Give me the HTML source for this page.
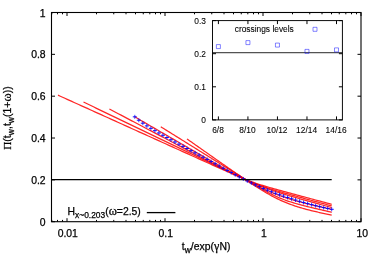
<!DOCTYPE html>
<html><head><meta charset="utf-8"><title>plot</title>
<style>
html,body{margin:0;padding:0;background:#fff;}
body{width:380px;height:266px;position:relative;overflow:hidden;font-family:"Liberation Sans",sans-serif;}
</style></head><body>
<svg width="380" height="266" viewBox="0 0 380 266" style="position:absolute;left:0;top:0;will-change:transform;opacity:0.999">
<path d="M58.00,95.18 L60.30,96.22 L62.60,97.26 L64.90,98.30 L67.20,99.34 L69.50,100.38 L71.80,101.42 L74.10,102.46 L76.40,103.50 L78.70,104.54 L81.00,105.58 L83.30,106.61 L85.60,107.65 L87.90,108.69 L90.20,109.73 L92.50,110.77 L94.80,111.81 L97.10,112.85 L99.40,113.89 L101.70,114.93 L104.00,115.97 L106.30,117.01 L108.60,118.05 L110.90,119.09 L113.20,120.13 L115.50,121.17 L117.80,122.21 L120.10,123.25 L122.40,124.29 L124.70,125.33 L127.00,126.37 L129.30,127.41 L131.60,128.45 L133.90,129.48 L136.20,130.52 L138.50,131.56 L140.80,132.60 L143.10,133.64 L145.40,134.68 L147.70,135.72 L150.00,136.76 L152.30,137.80 L154.60,138.84 L156.90,139.88 L159.20,140.92 L161.50,141.96 L163.80,143.00 L166.10,144.04 L168.40,145.08 L170.70,146.12 L173.00,147.16 L175.30,148.20 L177.60,149.24 L179.90,150.28 L182.20,151.32 L184.50,152.35 L186.80,153.39 L189.10,154.43 L191.40,155.47 L193.70,156.51 L196.00,157.55 L198.30,158.59 L200.60,159.63 L202.90,160.67 L205.20,161.71 L207.50,162.75 L209.80,163.78 L212.10,164.82 L214.40,165.86 L216.70,166.89 L219.00,167.92 L221.30,168.96 L223.60,169.99 L225.90,171.01 L228.20,172.03 L230.50,173.05 L232.80,174.06 L235.10,175.06 L237.40,176.05 L239.70,177.03 L242.00,177.99 L244.30,178.92 L246.60,179.84 L248.90,180.73 L251.20,181.59 L253.50,182.42 L255.80,183.22 L258.10,183.99 L260.40,184.73 L262.70,185.46 L265.00,186.16 L267.30,186.84 L269.60,187.51 L271.90,188.16 L274.20,188.81 L276.50,189.45 L278.80,190.08 L281.10,190.71 L283.40,191.34 L285.70,191.96 L288.00,192.58 L290.30,193.20 L292.60,193.82 L294.90,194.44 L297.20,195.06 L299.50,195.68 L301.80,196.29 L304.10,196.91 L306.40,197.52 L308.70,198.14 L311.00,198.76 L313.30,199.37 L315.60,199.99 L317.90,200.60 L320.20,201.22 L322.50,201.83 L324.80,202.45 L327.10,203.07 L329.40,203.68 L331.70,204.30" fill="none" stroke="#ff0000" stroke-width="1.25" stroke-opacity="0.85"/>
<path d="M83.50,102.06 L85.59,103.06 L87.67,104.06 L89.76,105.06 L91.84,106.06 L93.93,107.06 L96.01,108.07 L98.10,109.07 L100.19,110.07 L102.27,111.07 L104.36,112.07 L106.44,113.07 L108.53,114.07 L110.61,115.07 L112.70,116.07 L114.79,117.07 L116.87,118.07 L118.96,119.07 L121.04,120.07 L123.13,121.07 L125.21,122.07 L127.30,123.08 L129.39,124.08 L131.47,125.08 L133.56,126.08 L135.64,127.08 L137.73,128.08 L139.81,129.08 L141.90,130.08 L143.99,131.08 L146.07,132.08 L148.16,133.08 L150.24,134.08 L152.33,135.08 L154.41,136.08 L156.50,137.08 L158.59,138.09 L160.67,139.09 L162.76,140.09 L164.84,141.09 L166.93,142.09 L169.01,143.09 L171.10,144.09 L173.19,145.09 L175.27,146.09 L177.36,147.09 L179.44,148.09 L181.53,149.09 L183.61,150.09 L185.70,151.09 L187.79,152.09 L189.87,153.09 L191.96,154.10 L194.04,155.10 L196.13,156.10 L198.21,157.10 L200.30,158.10 L202.39,159.10 L204.47,160.10 L206.56,161.10 L208.64,162.10 L210.73,163.10 L212.81,164.10 L214.90,165.10 L216.99,166.09 L219.07,167.09 L221.16,168.09 L223.24,169.08 L225.33,170.08 L227.41,171.07 L229.50,172.06 L231.59,173.05 L233.67,174.03 L235.76,175.01 L237.84,175.99 L239.93,176.95 L242.01,177.91 L244.10,178.85 L246.19,179.78 L248.27,180.69 L250.36,181.59 L252.44,182.46 L254.53,183.31 L256.61,184.13 L258.70,184.92 L260.79,185.68 L262.87,186.42 L264.96,187.13 L267.04,187.82 L269.13,188.49 L271.21,189.13 L273.30,189.77 L275.39,190.39 L277.47,191.00 L279.56,191.60 L281.64,192.19 L283.73,192.78 L285.81,193.36 L287.90,193.94 L289.99,194.52 L292.07,195.10 L294.16,195.67 L296.24,196.24 L298.33,196.82 L300.41,197.39 L302.50,197.96 L304.59,198.53 L306.67,199.10 L308.76,199.67 L310.84,200.24 L312.93,200.81 L315.01,201.38 L317.10,201.95 L319.19,202.52 L321.27,203.09 L323.36,203.65 L325.44,204.22 L327.53,204.79 L329.61,205.36 L331.70,205.93" fill="none" stroke="#ff0000" stroke-width="1.25" stroke-opacity="0.85"/>
<path d="M109.40,109.02 L111.27,110.00 L113.14,110.99 L115.00,111.97 L116.87,112.95 L118.74,113.94 L120.61,114.92 L122.48,115.91 L124.34,116.89 L126.21,117.88 L128.08,118.86 L129.95,119.85 L131.82,120.83 L133.68,121.82 L135.55,122.80 L137.42,123.78 L139.29,124.77 L141.16,125.75 L143.03,126.74 L144.89,127.72 L146.76,128.71 L148.63,129.69 L150.50,130.67 L152.37,131.66 L154.23,132.64 L156.10,133.63 L157.97,134.61 L159.84,135.60 L161.71,136.58 L163.57,137.56 L165.44,138.55 L167.31,139.53 L169.18,140.52 L171.05,141.50 L172.91,142.48 L174.78,143.47 L176.65,144.45 L178.52,145.43 L180.39,146.42 L182.25,147.40 L184.12,148.38 L185.99,149.37 L187.86,150.35 L189.73,151.33 L191.59,152.31 L193.46,153.29 L195.33,154.27 L197.20,155.25 L199.07,156.23 L200.94,157.21 L202.80,158.19 L204.67,159.16 L206.54,160.14 L208.41,161.11 L210.28,162.08 L212.14,163.05 L214.01,164.02 L215.88,164.99 L217.75,165.95 L219.62,166.91 L221.48,167.87 L223.35,168.83 L225.22,169.78 L227.09,170.72 L228.96,171.66 L230.82,172.59 L232.69,173.52 L234.56,174.44 L236.43,175.36 L238.30,176.26 L240.16,177.15 L242.03,178.04 L243.90,178.91 L245.77,179.77 L247.64,180.61 L249.51,181.45 L251.37,182.27 L253.24,183.07 L255.11,183.86 L256.98,184.63 L258.85,185.38 L260.71,186.12 L262.58,186.84 L264.45,187.55 L266.32,188.24 L268.19,188.92 L270.05,189.58 L271.92,190.22 L273.79,190.86 L275.66,191.48 L277.53,192.09 L279.39,192.69 L281.26,193.28 L283.13,193.86 L285.00,194.43 L286.87,194.99 L288.73,195.55 L290.60,196.10 L292.47,196.65 L294.34,197.19 L296.21,197.72 L298.07,198.26 L299.94,198.79 L301.81,199.31 L303.68,199.84 L305.55,200.36 L307.42,200.88 L309.28,201.40 L311.15,201.91 L313.02,202.43 L314.89,202.94 L316.76,203.46 L318.62,203.97 L320.49,204.48 L322.36,204.99 L324.23,205.50 L326.10,206.01 L327.96,206.52 L329.83,207.02 L331.70,207.53" fill="none" stroke="#ff0000" stroke-width="1.25" stroke-opacity="0.85"/>
<path d="M134.80,116.83 L136.45,117.79 L138.11,118.75 L139.76,119.71 L141.42,120.67 L143.07,121.63 L144.73,122.59 L146.38,123.55 L148.04,124.51 L149.69,125.47 L151.35,126.43 L153.00,127.39 L154.66,128.35 L156.31,129.31 L157.96,130.26 L159.62,131.22 L161.27,132.18 L162.93,133.14 L164.58,134.10 L166.24,135.06 L167.89,136.02 L169.55,136.98 L171.20,137.94 L172.86,138.90 L174.51,139.86 L176.17,140.81 L177.82,141.77 L179.47,142.73 L181.13,143.69 L182.78,144.65 L184.44,145.60 L186.09,146.56 L187.75,147.52 L189.40,148.47 L191.06,149.43 L192.71,150.39 L194.37,151.34 L196.02,152.30 L197.68,153.25 L199.33,154.20 L200.98,155.16 L202.64,156.11 L204.29,157.06 L205.95,158.01 L207.60,158.96 L209.26,159.91 L210.91,160.86 L212.57,161.80 L214.22,162.75 L215.88,163.69 L217.53,164.64 L219.19,165.57 L220.84,166.51 L222.49,167.45 L224.15,168.38 L225.80,169.31 L227.46,170.24 L229.11,171.16 L230.77,172.09 L232.42,173.00 L234.08,173.92 L235.73,174.82 L237.39,175.73 L239.04,176.63 L240.70,177.52 L242.35,178.40 L244.01,179.28 L245.66,180.16 L247.31,181.02 L248.97,181.88 L250.62,182.72 L252.28,183.56 L253.93,184.39 L255.59,185.20 L257.24,186.01 L258.90,186.80 L260.55,187.58 L262.21,188.35 L263.86,189.10 L265.52,189.84 L267.17,190.57 L268.82,191.28 L270.48,191.98 L272.13,192.66 L273.79,193.32 L275.44,193.97 L277.10,194.60 L278.75,195.22 L280.41,195.82 L282.06,196.41 L283.72,196.98 L285.37,197.54 L287.03,198.08 L288.68,198.61 L290.33,199.13 L291.99,199.63 L293.64,200.12 L295.30,200.60 L296.95,201.07 L298.61,201.53 L300.26,201.98 L301.92,202.42 L303.57,202.85 L305.23,203.27 L306.88,203.69 L308.54,204.09 L310.19,204.50 L311.84,204.89 L313.50,205.28 L315.15,205.67 L316.81,206.05 L318.46,206.43 L320.12,206.80 L321.77,207.17 L323.43,207.53 L325.08,207.90 L326.74,208.26 L328.39,208.61 L330.05,208.97 L331.70,209.32" fill="none" stroke="#ff0000" stroke-width="1.25" stroke-opacity="0.85"/>
<path d="M160.80,126.77 L162.24,127.67 L163.67,128.56 L165.11,129.46 L166.54,130.35 L167.98,131.24 L169.42,132.14 L170.85,133.03 L172.29,133.93 L173.73,134.82 L175.16,135.72 L176.60,136.61 L178.03,137.51 L179.47,138.40 L180.91,139.29 L182.34,140.19 L183.78,141.08 L185.21,141.98 L186.65,142.87 L188.09,143.77 L189.52,144.66 L190.96,145.55 L192.39,146.45 L193.83,147.34 L195.27,148.24 L196.70,149.13 L198.14,150.03 L199.58,150.92 L201.01,151.82 L202.45,152.71 L203.88,153.60 L205.32,154.50 L206.76,155.39 L208.19,156.29 L209.63,157.18 L211.06,158.07 L212.50,158.97 L213.94,159.86 L215.37,160.76 L216.81,161.65 L218.25,162.54 L219.68,163.44 L221.12,164.33 L222.55,165.22 L223.99,166.11 L225.43,167.01 L226.86,167.90 L228.30,168.79 L229.73,169.68 L231.17,170.57 L232.61,171.46 L234.04,172.35 L235.48,173.24 L236.92,174.13 L238.35,175.01 L239.79,175.90 L241.22,176.78 L242.66,177.66 L244.10,178.54 L245.53,179.42 L246.97,180.30 L248.40,181.17 L249.84,182.04 L251.28,182.90 L252.71,183.76 L254.15,184.62 L255.58,185.47 L257.02,186.31 L258.46,187.15 L259.89,187.97 L261.33,188.79 L262.77,189.60 L264.20,190.40 L265.64,191.18 L267.07,191.95 L268.51,192.71 L269.95,193.45 L271.38,194.17 L272.82,194.88 L274.25,195.56 L275.69,196.23 L277.13,196.87 L278.56,197.49 L280.00,198.10 L281.44,198.68 L282.87,199.24 L284.31,199.78 L285.74,200.31 L287.18,200.81 L288.62,201.30 L290.05,201.77 L291.49,202.22 L292.92,202.66 L294.36,203.09 L295.80,203.51 L297.23,203.91 L298.67,204.31 L300.11,204.70 L301.54,205.08 L302.98,205.45 L304.41,205.82 L305.85,206.18 L307.29,206.54 L308.72,206.89 L310.16,207.24 L311.59,207.59 L313.03,207.93 L314.47,208.27 L315.90,208.61 L317.34,208.95 L318.77,209.29 L320.21,209.63 L321.65,209.96 L323.08,210.29 L324.52,210.63 L325.96,210.96 L327.39,211.29 L328.83,211.62 L330.26,211.95 L331.70,212.28" fill="none" stroke="#ff0000" stroke-width="1.25" stroke-opacity="0.85"/>
<path d="M187.00,138.94 L188.22,139.79 L189.43,140.65 L190.65,141.50 L191.86,142.36 L193.08,143.21 L194.30,144.07 L195.51,144.92 L196.73,145.77 L197.94,146.63 L199.16,147.48 L200.38,148.34 L201.59,149.19 L202.81,150.04 L204.02,150.90 L205.24,151.75 L206.46,152.60 L207.67,153.46 L208.89,154.31 L210.10,155.16 L211.32,156.01 L212.54,156.87 L213.75,157.72 L214.97,158.57 L216.18,159.42 L217.40,160.27 L218.62,161.12 L219.83,161.97 L221.05,162.82 L222.26,163.67 L223.48,164.51 L224.69,165.36 L225.91,166.21 L227.13,167.05 L228.34,167.90 L229.56,168.74 L230.77,169.58 L231.99,170.42 L233.21,171.26 L234.42,172.10 L235.64,172.94 L236.85,173.77 L238.07,174.61 L239.29,175.44 L240.50,176.27 L241.72,177.09 L242.93,177.92 L244.15,178.74 L245.37,179.56 L246.58,180.37 L247.80,181.18 L249.01,181.99 L250.23,182.79 L251.45,183.59 L252.66,184.39 L253.88,185.18 L255.09,185.96 L256.31,186.74 L257.53,187.51 L258.74,188.27 L259.96,189.03 L261.17,189.78 L262.39,190.52 L263.61,191.25 L264.82,191.97 L266.04,192.68 L267.25,193.39 L268.47,194.08 L269.69,194.76 L270.90,195.43 L272.12,196.08 L273.33,196.73 L274.55,197.36 L275.77,197.98 L276.98,198.59 L278.20,199.18 L279.41,199.76 L280.63,200.32 L281.85,200.87 L283.06,201.41 L284.28,201.93 L285.49,202.44 L286.71,202.93 L287.93,203.41 L289.14,203.88 L290.36,204.34 L291.57,204.78 L292.79,205.21 L294.01,205.63 L295.22,206.04 L296.44,206.43 L297.65,206.82 L298.87,207.20 L300.08,207.56 L301.30,207.92 L302.52,208.27 L303.73,208.61 L304.95,208.95 L306.16,209.28 L307.38,209.60 L308.60,209.91 L309.81,210.22 L311.03,210.52 L312.24,210.82 L313.46,211.12 L314.68,211.41 L315.89,211.69 L317.11,211.98 L318.32,212.25 L319.54,212.53 L320.76,212.80 L321.97,213.07 L323.19,213.34 L324.40,213.61 L325.62,213.87 L326.84,214.13 L328.05,214.39 L329.27,214.65 L330.48,214.91 L331.70,215.16" fill="none" stroke="#ff0000" stroke-width="1.25" stroke-opacity="0.85"/>
<path d="M134.80,114.83v4.00M138.82,118.22v4.00M142.84,121.19v4.00M146.86,123.90v4.00M150.87,126.35v4.00M154.89,128.67v4.00M158.91,130.97v4.00M162.93,133.26v4.00M166.95,135.55v4.00M170.97,137.78v4.00M174.98,139.98v4.00M179.00,142.17v4.00M183.02,144.35v4.00M187.04,146.54v4.00M191.06,148.71v4.00M195.08,150.87v4.00M199.09,153.03v4.00M203.11,155.19v4.00M207.13,157.37v4.00M211.15,159.57v4.00M215.17,161.78v4.00M219.19,163.99v4.00M223.20,166.19v4.00M227.22,168.38v4.00M231.24,170.56v4.00M235.26,172.72v4.00M239.28,174.84v4.00M243.30,176.93v4.00M247.31,178.96v4.00M251.33,180.93v4.00M255.35,182.84v4.00M259.37,184.67v4.00M263.39,186.43v4.00M267.41,188.11v4.00M271.42,189.72v4.00M275.44,191.25v4.00M279.46,192.71v4.00M283.48,194.10v4.00M287.50,195.44v4.00M291.52,196.76v4.00M295.53,198.03v4.00M299.55,199.27v4.00M303.57,200.46v4.00M307.59,201.59v4.00M311.61,202.67v4.00M315.63,203.67v4.00M319.64,204.63v4.00M323.66,205.55v4.00M327.68,206.45v4.00M331.70,207.32v4.00" fill="none" stroke="#0000ff" stroke-width="0.85" stroke-opacity="0.9"/>
<path d="M132.80,116.83h4.00M136.82,120.22h4.00M140.84,123.19h4.00M144.86,125.90h4.00M148.87,128.35h4.00M152.89,130.67h4.00M156.91,132.97h4.00M160.93,135.26h4.00M164.95,137.55h4.00M168.97,139.78h4.00M172.98,141.98h4.00M177.00,144.17h4.00M181.02,146.35h4.00M185.04,148.54h4.00M189.06,150.71h4.00M193.08,152.87h4.00M197.09,155.03h4.00M201.11,157.19h4.00M205.13,159.37h4.00M209.15,161.57h4.00M213.17,163.78h4.00M217.19,165.99h4.00M221.20,168.19h4.00M225.22,170.38h4.00M229.24,172.56h4.00M233.26,174.72h4.00M237.28,176.84h4.00M241.30,178.93h4.00M245.31,180.96h4.00M249.33,182.93h4.00M253.35,184.84h4.00M257.37,186.67h4.00M261.39,188.43h4.00M265.41,190.11h4.00M269.42,191.72h4.00M273.44,193.25h4.00M277.46,194.71h4.00M281.48,196.10h4.00M285.50,197.44h4.00M289.52,198.76h4.00M293.53,200.03h4.00M297.55,201.27h4.00M301.57,202.46h4.00M305.59,203.59h4.00M309.61,204.67h4.00M313.63,205.67h4.00M317.64,206.63h4.00M321.66,207.55h4.00M325.68,208.45h4.00M329.70,209.32h4.00" fill="none" stroke="#0000ff" stroke-width="0.95"/>
<path d="M51.5,179.55H331.7" stroke="#000" stroke-width="1.3" fill="none"/>
<path d="M146.8,212.6H175.4" stroke="#000" stroke-width="1.3" fill="none"/>
<rect x="51.5" y="12.5" width="309.5" height="209.2" fill="none" stroke="#000" stroke-width="1.1"/>
<path d="M51.5,221.70h3.5M361.0,221.70h-3.5M51.5,179.86h3.5M361.0,179.86h-3.5M51.5,138.02h3.5M361.0,138.02h-3.5M51.5,96.18h3.5M361.0,96.18h-3.5M51.5,54.34h3.5M361.0,54.34h-3.5M51.5,12.50h3.5M361.0,12.50h-3.5M51.82,221.7v-1.8M51.82,12.5v1.8M57.50,221.7v-1.8M57.50,12.5v1.8M62.52,221.7v-1.8M62.52,12.5v1.8M67.00,221.7v-3.5M67.00,12.5v3.5M96.50,221.7v-1.8M96.50,12.5v1.8M113.76,221.7v-1.8M113.76,12.5v1.8M126.00,221.7v-1.8M126.00,12.5v1.8M135.50,221.7v-1.8M135.50,12.5v1.8M143.26,221.7v-1.8M143.26,12.5v1.8M149.82,221.7v-1.8M149.82,12.5v1.8M155.50,221.7v-1.8M155.50,12.5v1.8M160.52,221.7v-1.8M160.52,12.5v1.8M165.00,221.7v-3.5M165.00,12.5v3.5M194.50,221.7v-1.8M194.50,12.5v1.8M211.76,221.7v-1.8M211.76,12.5v1.8M224.00,221.7v-1.8M224.00,12.5v1.8M233.50,221.7v-1.8M233.50,12.5v1.8M241.26,221.7v-1.8M241.26,12.5v1.8M247.82,221.7v-1.8M247.82,12.5v1.8M253.50,221.7v-1.8M253.50,12.5v1.8M258.52,221.7v-1.8M258.52,12.5v1.8M263.00,221.7v-3.5M263.00,12.5v3.5M292.50,221.7v-1.8M292.50,12.5v1.8M309.76,221.7v-1.8M309.76,12.5v1.8M322.00,221.7v-1.8M322.00,12.5v1.8M331.50,221.7v-1.8M331.50,12.5v1.8M339.26,221.7v-1.8M339.26,12.5v1.8M345.82,221.7v-1.8M345.82,12.5v1.8M351.50,221.7v-1.8M351.50,12.5v1.8M356.52,221.7v-1.8M356.52,12.5v1.8M361.00,221.7v-3.5M361.00,12.5v3.5" stroke="#000" stroke-width="1.0" fill="none"/>
<rect x="212.5" y="20.6" width="129.89999999999998" height="99.30000000000001" fill="#fff" stroke="#000" stroke-width="0.95"/>
<path d="M212.5,119.90h3.5M342.4,119.90h-3.5M212.5,86.80h3.5M342.4,86.80h-3.5M212.5,53.70h3.5M342.4,53.70h-3.5M212.5,20.60h3.5M342.4,20.60h-3.5M218.40,119.9v-3.5M218.40,20.6v3.5M247.93,119.9v-3.5M247.93,20.6v3.5M277.45,119.9v-3.5M277.45,20.6v3.5M306.97,119.9v-3.5M306.97,20.6v3.5M336.50,119.9v-3.5M336.50,20.6v3.5" stroke="#000" stroke-width="1.0" fill="none"/>
<path d="M212.5,52.71H342.4" stroke="#000" stroke-width="0.85" fill="none"/>
<path d="M216.40,44.58h4.0v4.0h-4.0zM245.93,40.61h4.0v4.0h-4.0zM275.45,43.09h4.0v4.0h-4.0zM304.97,49.38h4.0v4.0h-4.0zM334.50,47.89h4.0v4.0h-4.0zM313.00,27.30h4.0v4.0h-4.0z" stroke="#0000ff" stroke-opacity="0.75" stroke-width="0.65" fill="none"/>
<g style="font-family:'Liberation Sans',sans-serif;font-size:10.4px" fill="#000" stroke="#000" stroke-width="0.25">
<text x="45.6" y="225.80" text-anchor="end">0</text>
<text x="45.6" y="183.96" text-anchor="end">0.2</text>
<text x="45.6" y="142.12" text-anchor="end">0.4</text>
<text x="45.6" y="100.28" text-anchor="end">0.6</text>
<text x="45.6" y="58.44" text-anchor="end">0.8</text>
<text x="45.6" y="16.60" text-anchor="end">1</text>
<text x="67.80" y="236.5" text-anchor="middle">0.01</text>
<text x="165.80" y="236.5" text-anchor="middle">0.1</text>
<text x="263.80" y="236.5" text-anchor="middle">1</text>
<text x="362.20" y="236.5" text-anchor="middle">10</text>
<text x="181.8" y="250.3" textLength="48.6" lengthAdjust="spacing">t<tspan dy="2.8" font-size="8.4">w</tspan><tspan dy="-2.8">/exp(</tspan><tspan style="font-family:'Liberation Serif',serif" font-size="12">γ</tspan>N)</text>
<text x="67.6" y="215.4">H<tspan dy="2.7" font-size="8.4">x~0.203</tspan><tspan dy="-2.7">(</tspan><tspan style="font-family:'Liberation Serif',serif" font-size="12.5">ω</tspan>=2.5)</text>
<text transform="translate(10.9,149.8) rotate(-90)" textLength="63.6" lengthAdjust="spacing"><tspan style="font-family:'Liberation Serif',serif" font-size="11.2">Π</tspan>(t<tspan dy="2.8" font-size="8.4">w</tspan><tspan dy="-2.8">,t</tspan><tspan dy="2.8" font-size="8.4">w</tspan><tspan dy="-2.8">(1+</tspan><tspan style="font-family:'Liberation Serif',serif" font-size="12.5">ω</tspan>))</text>
</g>
<g style="font-family:'Liberation Sans',sans-serif;font-size:8.4px" fill="#000" stroke="#000" stroke-width="0.08">
<text x="206" y="122.90" text-anchor="end">0</text>
<text x="206" y="89.80" text-anchor="end">0.1</text>
<text x="206" y="56.70" text-anchor="end">0.2</text>
<text x="206" y="23.60" text-anchor="end">0.3</text>
<text x="218.00" y="132.6" text-anchor="middle">6/8</text>
<text x="247.53" y="132.6" text-anchor="middle">8/10</text>
<text x="277.05" y="132.6" text-anchor="middle">10/12</text>
<text x="306.57" y="132.6" text-anchor="middle">12/14</text>
<text x="336.10" y="132.6" text-anchor="middle">14/16</text>
<text x="234.7" y="32.2">crossings levels</text>
</g>
</svg>
</body></html>
